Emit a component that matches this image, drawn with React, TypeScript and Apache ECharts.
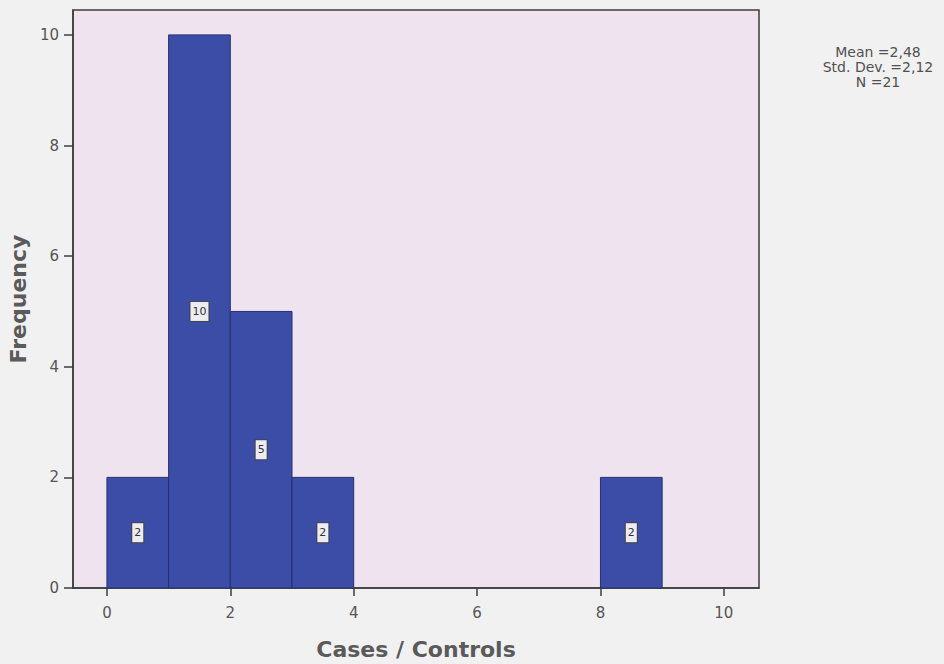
import React, { useEffect, useRef } from "react";
import * as echarts from "echarts";

const binStarts = [0, 1, 2, 3, 8];
const binEnds = [1, 2, 3, 4, 9];
const counts = [2, 10, 5, 2, 2];
const xTicks = [0, 2, 4, 6, 8, 10];
const yTicks = [0, 2, 4, 6, 8, 10];
const statsLines = ["Mean =2,48", "Std. Dev. =2,12", "N =21"];

const FONT = "DejaVu Sans, Verdana, sans-serif";

export default function App() {
  const ref = useRef<HTMLDivElement>(null);
  useEffect(() => {
    if (!ref.current) return;
    const chart = echarts.init(ref.current, undefined, { renderer: "svg" });
    const data = binStarts.map((s, i) => [s, binEnds[i], counts[i]]);
    chart.setOption({
      animation: false,
      backgroundColor: "#f2f1f2",
      textStyle: { fontFamily: FONT },
      grid: {
        left: 73,
        top: 10,
        right: 185,
        bottom: 76,
        outerBoundsMode: "none",
        containLabel: false,
        show: true,
        backgroundColor: "#f0e3f0",
        borderColor: "#3c3c3c",
        borderWidth: 1.5,
      },
      xAxis: {
        type: "value",
        min: -0.55,
        max: 10.57,
        name: "Cases / Controls",
        nameLocation: "middle",
        nameGap: 50,
        nameTextStyle: { fontSize: 22, fontWeight: "bold", color: "#5a5a5a", fontFamily: FONT },
        axisLine: { show: true, onZero: false, lineStyle: { color: "#3c3c3c", width: 1.5 } },
        axisTick: {
          show: true,
          customValues: xTicks,
          length: 8,
          lineStyle: { color: "#3c3c3c", width: 1.5 },
        },
        axisLabel: {
          customValues: xTicks,
          fontSize: 15,
          color: "#555",
          margin: 17,
          fontFamily: FONT,
        },
        splitLine: { show: false },
      },
      yAxis: {
        type: "value",
        min: 0,
        max: 10.45,
        name: "Frequency",
        nameLocation: "middle",
        nameGap: 44,
        nameTextStyle: { fontSize: 22, fontWeight: "bold", color: "#5a5a5a", fontFamily: FONT },
        axisLine: { show: true, onZero: false, lineStyle: { color: "#3c3c3c", width: 1.5 } },
        axisTick: {
          show: true,
          customValues: yTicks,
          length: 9,
          lineStyle: { color: "#3c3c3c", width: 1.5 },
        },
        axisLabel: {
          customValues: yTicks,
          fontSize: 15,
          color: "#555",
          margin: 14,
          fontFamily: FONT,
        },
        splitLine: { show: false },
      },
      graphic: statsLines.map((t, i) => ({
        type: "text",
        x: 878,
        y: 52 + i * 15,
        style: {
          text: t,
          fontSize: 14,
          fill: "#505050",
          align: "center",
          verticalAlign: "middle",
          fontFamily: FONT,
        },
      })),
      series: [
        {
          type: "custom",
          data,
          encode: { x: [0, 1], y: 2 },
          renderItem: (params: any, api: any) => {
            const s = api.value(0);
            const e = api.value(1);
            const c = api.value(2);
            const p0 = api.coord([s, 0]);
            const p1 = api.coord([e, c]);
            const mid = api.coord([(s + e) / 2, c / 2]);
            return {
              type: "group",
              children: [
                {
                  type: "rect",
                  shape: {
                    x: p0[0],
                    y: p1[1],
                    width: p1[0] - p0[0],
                    height: p0[1] - p1[1],
                  },
                  style: {
                    fill: "#3c4da7",
                    stroke: "#27306c",
                    lineWidth: 1,
                  },
                },
                {
                  type: "text",
                  x: mid[0],
                  y: mid[1],
                  style: {
                    text: String(c),
                    fontSize: 11,
                    fill: "#333",
                    align: "center",
                    verticalAlign: "middle",
                    backgroundColor: "#ececf2",
                    borderColor: "#444",
                    borderWidth: 1,
                    padding: [4, 2],
                    fontFamily: FONT,
                  },
                },
              ],
            };
          },
        },
      ],
    });
    return () => chart.dispose();
  }, []);
  return (
    <div
      ref={ref}
      style={{ position: "absolute", left: 0, top: 0, width: 944, height: 664 }}
    />
  );
}
